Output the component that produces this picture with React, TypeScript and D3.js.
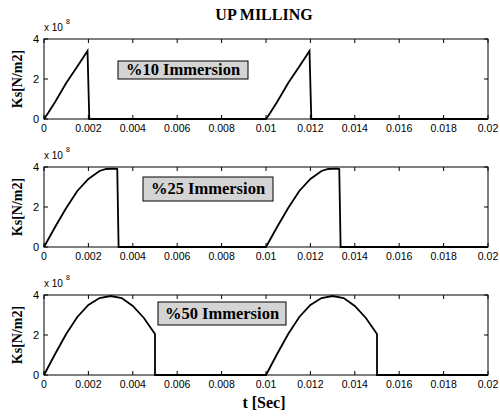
import React from 'react';
import * as d3 from 'd3';

// t in seconds, Ks in units of 1e8 N/m2
const t10 = [0, 0.0002, 0.0005, 0.001, 0.0015, 0.00196, 0.00204, 0.01, 0.0102, 0.0105, 0.011, 0.0115, 0.01196, 0.01204, 0.02];
const ks10 = [0, 0.32, 0.85, 1.8, 2.62, 3.4, 0, 0, 0.32, 0.85, 1.8, 2.62, 3.4, 0, 0];

const t25 = [0, 0.0005, 0.001, 0.0015, 0.002, 0.0025, 0.0028, 0.0032, 0.0033, 0.00336, 0.01, 0.0105, 0.011, 0.0115, 0.012, 0.0125, 0.0128, 0.0132, 0.0133, 0.01336, 0.02];
const ks25 = [0, 1.0, 1.95, 2.8, 3.4, 3.8, 3.9, 3.92, 3.9, 0, 0, 1.0, 1.95, 2.8, 3.4, 3.8, 3.9, 3.92, 3.9, 0, 0];

const t50 = [0, 0.0005, 0.001, 0.0015, 0.002, 0.0025, 0.003, 0.0035, 0.004, 0.0045, 0.005, 0.005, 0.01, 0.0105, 0.011, 0.0115, 0.012, 0.0125, 0.013, 0.0135, 0.014, 0.0145, 0.015, 0.015, 0.02];
const ks50 = [0, 1.05, 2.05, 2.9, 3.5, 3.85, 3.95, 3.85, 3.45, 2.85, 2.05, 0, 0, 1.05, 2.05, 2.9, 3.5, 3.85, 3.95, 3.85, 3.45, 2.85, 2.05, 0, 0];

const xTicks = [0, 0.002, 0.004, 0.006, 0.008, 0.01, 0.012, 0.014, 0.016, 0.018, 0.02];
const yTicks = [0, 2, 4];

const panels = [
  { label: '%10 Immersion', t: t10, ks: ks10, top: 39, box: [118, 61, 130, 18] },
  { label: '%25 Immersion', t: t25, ks: ks25, top: 167, box: [143, 177, 130, 24] },
  { label: '%50 Immersion', t: t50, ks: ks50, top: 295, box: [158, 302, 128, 23] },
];

const left = 44;
const right = 488;
const ph = 80;
const sans = '"Liberation Sans", Arial, sans-serif';
const serif = '"Liberation Serif", "Times New Roman", serif';

export default function App() {
  const x = d3.scaleLinear().domain([0, 0.02]).range([left, right]);
  return (
    <svg width={500} height={419} style={{ position: 'absolute', left: 0, top: 0, background: '#fff' }}>
      <text x={264} y={20} textAnchor="middle" fontFamily={serif} fontWeight="bold" fontSize={16}>UP  MILLING</text>
      {panels.map((p, pi) => {
        const y = d3.scaleLinear().domain([0, 4]).range([p.top + ph, p.top]);
        const pts = p.t.map((tv, i) => [tv, p.ks[i]] as [number, number]);
        const line = d3.line<[number, number]>().x(d => x(d[0])).y(d => y(d[1]));
        const [bx, by, bw, bh] = p.box;
        return (
          <g key={pi}>
            <rect x={left} y={p.top} width={right - left} height={ph} fill="#fff" stroke="#000" strokeWidth={1} />
            {xTicks.map(v => (
              <g key={'x' + v}>
                <line x1={x(v)} x2={x(v)} y1={p.top + ph} y2={p.top + ph - 4} stroke="#000" />
                <line x1={x(v)} x2={x(v)} y1={p.top} y2={p.top + 4} stroke="#000" />
                <text x={x(v)} y={p.top + ph + 13} textAnchor="middle" fontFamily={sans} fontSize={10.5}>{String(v)}</text>
              </g>
            ))}
            {yTicks.map(v => (
              <g key={'y' + v}>
                <line x1={left} x2={left + 4} y1={y(v)} y2={y(v)} stroke="#000" />
                <line x1={right} x2={right - 4} y1={y(v)} y2={y(v)} stroke="#000" />
                <text x={left - 5} y={y(v) + 4} textAnchor="end" fontFamily={sans} fontSize={11}>{String(v)}</text>
              </g>
            ))}
            <text x={44} y={p.top - 8} fontFamily={sans} fontSize={10}>x 10</text>
            <text x={66} y={p.top - 15} fontFamily={sans} fontSize={7}>8</text>
            <text transform={`translate(22,${p.top + ph / 2}) rotate(-90)`} textAnchor="middle" fontFamily={serif} fontWeight="bold" fontSize={14}>Ks[N/m2]</text>
            <path d={line(pts) || ''} fill="none" stroke="#000" strokeWidth={1.8} />
            <rect x={bx} y={by} width={bw} height={bh} fill="#d4d4d4" stroke="#000" strokeWidth={1} />
            <text x={bx + bw / 2} y={by + bh / 2 + 5} textAnchor="middle" fontFamily={serif} fontWeight="bold" fontSize={16.5}>{p.label}</text>
          </g>
        );
      })}
      <text x={264} y={408} textAnchor="middle" fontFamily={serif} fontWeight="bold" fontSize={16}>t [Sec]</text>
    </svg>
  );
}
